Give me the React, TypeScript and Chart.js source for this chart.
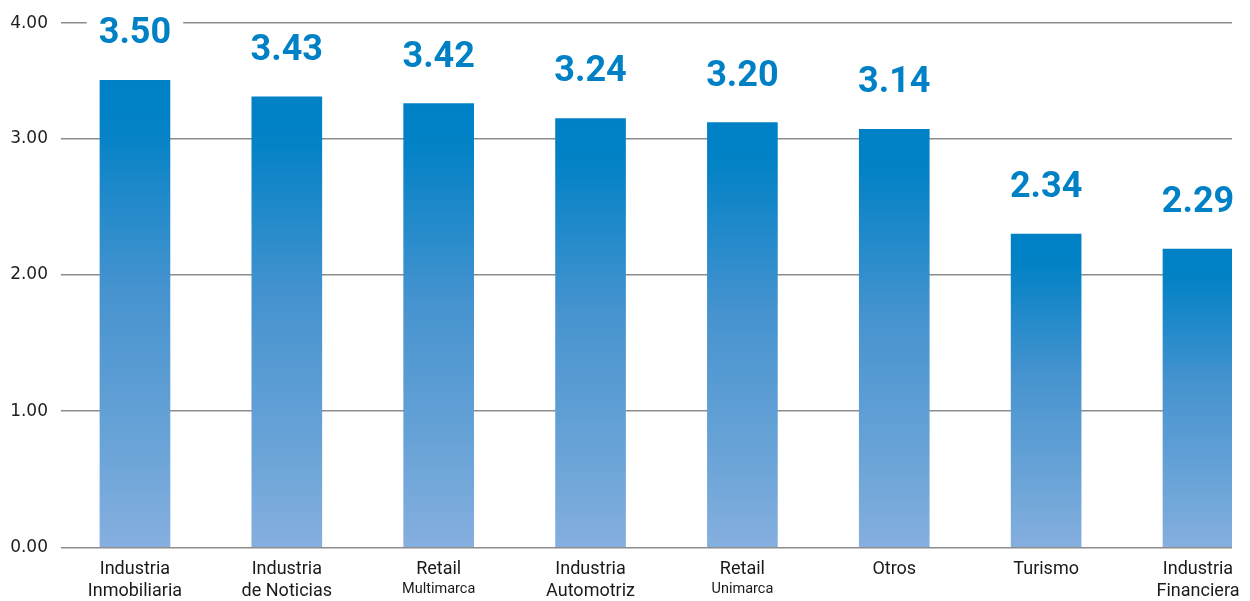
import React, { useEffect, useRef } from 'react';
import { Chart, registerables } from 'chart.js';

Chart.register(...registerables);

// ---- Data ----
const CATEGORY_LINE1 = ['Industria', 'Industria', 'Retail', 'Industria', 'Retail', 'Otros', 'Turismo', 'Industria'];
const CATEGORY_LINE2 = ['Inmobiliaria', 'de Noticias', 'Multimarca', 'Automotriz', 'Unimarca', '', '', 'Financiera'];
const CATEGORY_LINE2_SMALL = [false, false, true, false, true, false, false, false];
const BAR_VALUES = [3.43, 3.31, 3.26, 3.15, 3.12, 3.07, 2.3, 2.19];
const VALUE_LABELS = ['3.50', '3.43', '3.42', '3.24', '3.20', '3.14', '2.34', '2.29'];
const Y_TICK_VALUES = [0, 1, 2, 3, 3.85];
const Y_TICK_LABELS = ['0.00', '1.00', '2.00', '3.00', '4.00'];

const labelsPlugin = {
  id: 'customLabels',
  afterDatasetsDraw(chart: any) {
    const ctx = chart.ctx as CanvasRenderingContext2D;
    const meta = chart.getDatasetMeta(0);
    const axisY = chart.chartArea.bottom;
    ctx.save();
    ctx.textAlign = 'center';
    ctx.textBaseline = 'alphabetic';
    meta.data.forEach((bar: any, i: number) => {
      const x = bar.x;
      const top = bar.y;
      // value label with white backing
      ctx.font = 'bold 36px Roboto';
      const text = VALUE_LABELS[i];
      const w = ctx.measureText(text).width;
      const base = top - 37;
      ctx.fillStyle = '#ffffff';
      ctx.fillRect(x - w / 2 - 12, base - 32, w + 24, 38);
      ctx.fillStyle = '#0081C6';
      ctx.fillText(text, x, base);
      // category labels
      ctx.fillStyle = '#1a1a1a';
      ctx.font = '18px Roboto';
      ctx.fillText(CATEGORY_LINE1[i], x, axisY + 27);
      if (CATEGORY_LINE2[i]) {
        const small = CATEGORY_LINE2_SMALL[i];
        ctx.font = small ? '14.5px Roboto' : '18px Roboto';
        ctx.fillText(CATEGORY_LINE2[i], x, axisY + (small ? 46 : 49));
      }
    });
    ctx.restore();
  },
};

export default function App() {
  const canvasRef = useRef<HTMLCanvasElement | null>(null);

  useEffect(() => {
    if (!canvasRef.current) return;
    const chart = new Chart(canvasRef.current, {
      type: 'bar',
      data: {
        datasets: [
          {
            data: BAR_VALUES.map((v, i) => ({ x: i, y: v })),
            barThickness: 70,
            borderWidth: 0,
            backgroundColor: (context: any) => {
              const c = context.chart;
              const yScale = c.scales?.y;
              if (!yScale || context.raw == null) return '#0081C6';
              const yTop = yScale.getPixelForValue(context.raw.y);
              const yBot = yScale.getPixelForValue(0);
              if (!isFinite(yTop) || !isFinite(yBot) || yTop === yBot) return '#0081C6';
              const g = c.ctx.createLinearGradient(0, yTop, 0, yBot);
              g.addColorStop(0, '#0081C6');
              g.addColorStop(0.1, '#0382C6');
              g.addColorStop(0.45, '#4693CF');
              g.addColorStop(0.75, '#66A2D6');
              g.addColorStop(1, '#85AFDF');
              return g;
            },
          } as any,
        ],
      },
      options: {
        animation: false,
        responsive: false,
        maintainAspectRatio: false,
        layout: { padding: { left: 0, right: 18, top: 20.7, bottom: 53.7 } },
        plugins: {
          legend: { display: false },
          tooltip: { enabled: false },
        },
        scales: {
          x: {
            type: 'linear',
            display: false,
            offset: false,
            grid: { offset: false },
            min: -0.487,
            max: 7.224,
          },
          y: {
            min: 0,
            max: 3.85,
            afterBuildTicks: (scale: any) => {
              scale.ticks = Y_TICK_VALUES.map((v) => ({ value: v }));
            },
            afterFit: (scale: any) => {
              scale.width = 61;
            },
            border: { display: false },
            grid: {
              color: '#8c8c8c',
              lineWidth: 1.5,
              drawTicks: false,
            },
            ticks: {
              padding: 13,
              color: '#1e1e1e',
              font: { family: 'DejaVu Sans', size: 17 },
              callback: (_value: any, index: number) => Y_TICK_LABELS[index],
            },
          },
        },
      },
      plugins: [labelsPlugin],
    } as any);
    return () => chart.destroy();
  }, []);

  return (
    <div style={{ position: 'fixed', left: 0, top: 0, width: 1250, height: 601, background: '#fff' }}>
      <canvas ref={canvasRef} width={1250} height={601} style={{ display: 'block' }} />
    </div>
  );
}
